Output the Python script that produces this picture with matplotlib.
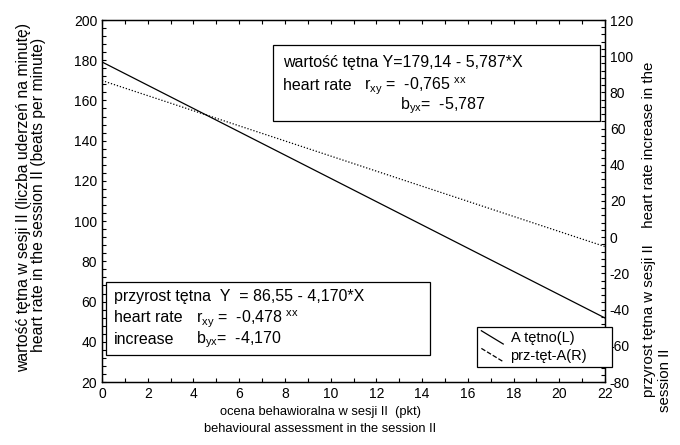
import matplotlib
matplotlib.use('Agg')
import matplotlib.pyplot as plt
from matplotlib.lines import Line2D
from matplotlib.patches import Rectangle
from matplotlib.legend_handler import HandlerBase
from matplotlib.ticker import MultipleLocator

plt.rcParams['font.family'] = ['Liberation Sans', 'DejaVu Sans']
plt.rcParams['mathtext.default'] = 'regular'
plt.rcParams['axes.unicode_minus'] = False

# ocena behawioralna (x) i wartości linii regresji na końcach zakresu
ocena = [0, 22]
tetno = [179.14, 51.83]        # A tętno (L)  Y = 179,14 - 5,787*X
przyrost = [86.55, -5.19]      # prz-tęt-A (R)  Y = 86,55 - 4,170*X

x_ticks = list(range(0, 23, 2))
left_ticks = list(range(20, 201, 20))
right_ticks = list(range(-80, 121, 20))

W, H = 680, 445
fig = plt.figure(figsize=(6.8, 4.45), dpi=100)
ax = fig.add_axes([102 / W, 1 - 382 / H, (605 - 102) / W, (382 - 20) / H])
ax2 = ax.twinx()

l1, = ax.plot(ocena, tetno, color='black', lw=0.9, label='A tętno(L)')
l2, = ax2.plot(ocena, przyrost, color='black', lw=0.9, linestyle=(0, (1, 1.5)), label='prz-tęt-A(R)')

ax.set_xlim(0, 22)
ax.set_ylim(20, 200)
ax2.set_ylim(-80, 120)
ax.set_xticks(x_ticks)
ax.set_yticks(left_ticks)
ax2.set_yticks(right_ticks)
ax.xaxis.set_minor_locator(MultipleLocator(1))
ax.yaxis.set_minor_locator(MultipleLocator(4))
ax2.yaxis.set_minor_locator(MultipleLocator(4))

for a in (ax, ax2):
    a.tick_params(which='both', direction='in', length=3, width=0.8, labelsize=10,
                  top=True, pad=3.5)
    for s in a.spines.values():
        s.set_linewidth(0.9)
ax.tick_params(axis='y', which='both', right=False)
ax2.tick_params(axis='y', which='both', left=False)

# opisy osi
fig.text(321 / W, 1 - 412 / H, 'ocena behawioralna w sesji II  (pkt)', ha='center', va='center', fontsize=9.3)
fig.text(320 / W, 1 - 429 / H, 'behavioural assessment in the session II', ha='center', va='center', fontsize=9.3)
fig.text(24 / W, 1 - 197 / H, 'wartość tętna w sesji II (liczba uderzeń na minutę)', rotation=90,
         ha='center', va='center', fontsize=11.3)
fig.text(39 / W, 1 - 195 / H, 'heart rate in the session II (beats per minute)', rotation=90,
         ha='center', va='center', fontsize=11.3)
fig.text(649 / W, 1 - 397 / H, 'przyrost tętna w sesji II    heart rate increase in the', rotation=90,
         ha='center', va='bottom', fontsize=10.8)
fig.text(665 / W, 1 - 412 / H, 'session II', rotation=90, ha='center', va='bottom', fontsize=10.8)


def box(x0, y0, x1, y1):
    fig.add_artist(Rectangle((x0 / W, 1 - y1 / H), (x1 - x0) / W, (y1 - y0) / H,
                             transform=fig.transFigure, fill=True, facecolor='white',
                             edgecolor='black', lw=0.9, zorder=5))


def txt(x, y, s):
    fig.text(x / W, 1 - y / H, s, ha='left', va='center', fontsize=11.5, zorder=6)


# ramka górna
box(273, 45, 600, 121)
txt(283, 62, 'wartość tętna Y=179,14 - 5,787*X')
txt(283, 85, 'heart rate')
txt(364, 86, r'$r_{xy}$ =  -0,765 $^{xx}$')
txt(400, 106, r'$b_{yx}$=  -5,787')

# ramka dolna
box(106, 282, 430, 355)
txt(114, 297, 'przyrost tętna  Y  = 86,55 - 4,170*X')
txt(114, 318, 'heart rate')
txt(196, 319, r'$r_{xy}$ =  -0,478 $^{xx}$')
txt(114, 340, 'increase')
txt(196, 340, r'$b_{yx}$=  -4,170')


class DiagHandler(HandlerBase):
    def create_artists(self, legend, orig_handle, xdescent, ydescent, width, height, fontsize, trans):
        ln = Line2D([-xdescent, -xdescent + width], [-ydescent + height * 1.1, -ydescent - height * 0.2],
                    color='black', lw=orig_handle.get_linewidth(), linestyle=orig_handle.get_linestyle())
        ln.set_transform(trans)
        return [ln]


leg = fig.legend([l1, l2], ['A tętno(L)', 'prz-tęt-A(R)'], loc='lower left',
                 bbox_to_anchor=(477 / W, 1 - 367 / H, (612 - 477) / W, (367 - 325) / H),
                 bbox_transform=fig.transFigure, mode='expand',
                 borderaxespad=0, fancybox=False, edgecolor='black', framealpha=1,
                 fontsize=10.5, handlelength=1.5, handletextpad=0.5, labelspacing=0.25,
                 borderpad=0.3, handler_map={Line2D: DiagHandler()})
leg.get_frame().set_linewidth(0.9)
leg.set_zorder(7)

fig.savefig('out.png', dpi=100)
